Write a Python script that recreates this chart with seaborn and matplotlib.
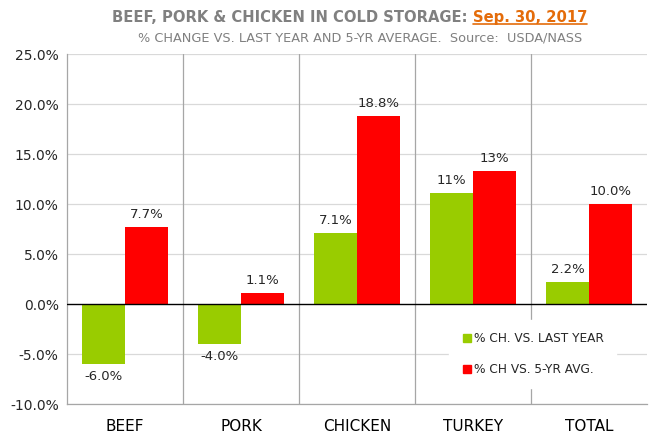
import numpy as np
import pandas as pd
import matplotlib
matplotlib.use('Agg')
import matplotlib.pyplot as plt
import seaborn as sns
from matplotlib.lines import Line2D

categories  = ['BEEF', 'PORK', 'CHICKEN', 'TURKEY', 'TOTAL']
series      = ['% CH. VS. LAST YEAR', '% CH VS. 5-YR AVG.']
vs_last_yr  = [-6.0, -4.0, 7.1, 11.1, 2.2]
vs_5yr_avg  = [7.7, 1.1, 18.8, 13.3, 10.0]
labels_last = ['-6.0%', '-4.0%', '7.1%', '11%', '2.2%']
labels_avg  = ['7.7%', '1.1%', '18.8%', '13%', '10.0%']
yticks      = [-10, -5, 0, 5, 10, 15, 20, 25]

green  = '#99cc00'
red    = '#ff0000'
gray   = '#808080'
orange = '#e46c0a'

df = pd.DataFrame({
    'cat':    categories * 2,
    'val':    vs_last_yr + vs_5yr_avg,
    'series': [series[0]] * 5 + [series[1]] * 5,
})

sns.set_style('white')
plt.rcParams['font.family'] = ['DejaVu Sans']

fig = plt.figure(figsize=(6.49, 4.37), dpi=100)
ax = fig.add_axes([0.1032, 0.0755, 0.8938, 0.8009])

for t in yticks:
    if t != 0:
        ax.axhline(t, color='#d9d9d9', lw=0.9, zorder=0)
for x in np.arange(0.5, len(categories) - 1, 1.0):
    ax.axvline(x, color='#a6a6a6', lw=0.9, zorder=0)

sns.barplot(data=df, x='cat', y='val', hue='series', palette=[green, red],
            width=0.74, saturation=1, linewidth=0, edgecolor='none', ax=ax, zorder=2)
ax.axhline(0, color='black', lw=1.0, zorder=3)

for cont, labs in zip(ax.containers, [labels_last, labels_avg]):
    ax.bar_label(cont, labels=labs, padding=4, fontsize=9.5, color='#262626')

ax.set_ylim(-10, 25)
ax.set_xlim(-0.5, len(categories) - 0.5)
ax.set_yticks(yticks)
ax.set_yticklabels([f'{t:.1f}%' for t in yticks], fontsize=10, color='#262626')
ax.tick_params(axis='x', labelsize=11, colors='#000000', pad=11, length=0)
ax.tick_params(axis='y', length=0, pad=6)
ax.set_xlabel('')
ax.set_ylabel('')
for side in ['top', 'right']:
    ax.spines[side].set_visible(False)
for side in ['left', 'bottom']:
    ax.spines[side].set_color('#a6a6a6')
    ax.spines[side].set_linewidth(0.9)

handles = [Line2D([], [], marker='s', ls='', color=c, markersize=6) for c in [green, red]]
leg = ax.legend(handles, series, loc='lower center', bbox_to_anchor=(0.803, 0.045),
                frameon=True, fontsize=8.7, handletextpad=0.1, labelspacing=1.5,
                borderpad=1.0, handlelength=1.0, borderaxespad=0)
leg.get_frame().set_edgecolor('white')
leg.get_frame().set_facecolor('white')
leg.get_frame().set_alpha(1)
leg.set_zorder(5)

# title in two colours, gray part then underlined orange date
t1 = fig.text(112 / 649, 0.961, 'BEEF, PORK & CHICKEN IN COLD STORAGE: ', ha='left', va='center',
              fontsize=10.6, fontweight='bold', color=gray)
fig.canvas.draw()
b1 = t1.get_window_extent().transformed(fig.transFigure.inverted())
t2 = fig.text(b1.x1, 0.961, 'Sep. 30, 2017', ha='left', va='center',
              fontsize=10.6, fontweight='bold', color=orange)
fig.text(0.555, 0.913, '% CHANGE VS. LAST YEAR AND 5-YR AVERAGE.  Source:  USDA/NASS',
         ha='center', va='center', fontsize=9.3, color=gray)

fig.canvas.draw()
bb = t2.get_window_extent().transformed(fig.transFigure.inverted())
fig.add_artist(Line2D([bb.x0, bb.x1], [bb.y0 + 0.001, bb.y0 + 0.001],
                      transform=fig.transFigure, color=orange, lw=1.2))

fig.savefig('out.png', dpi=100)
